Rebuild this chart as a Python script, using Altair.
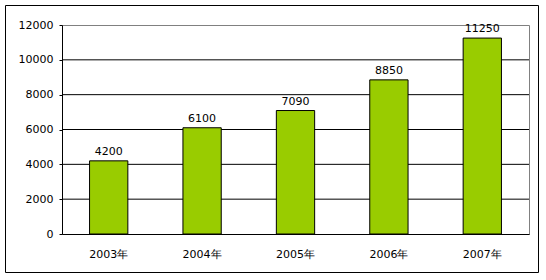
import altair as alt
import pandas as pd

years = ["2003年", "2004年", "2005年", "2006年", "2007年"]
values = [4200, 6100, 7090, 8850, 11250]
grid_values = [2000, 4000, 6000, 8000, 10000]
y_ticks = [0, 2000, 4000, 6000, 8000, 10000, 12000]

df = pd.DataFrame({"year": years, "value": values})
gdf = pd.DataFrame({"value": grid_values})

FONT = "DejaVu Sans"

yscale = alt.Scale(domain=[0, 12000], nice=False)
yaxis = alt.Axis(
    title=None, values=y_ticks, grid=False, format="d",
    tickSize=3, tickColor="black", labelPadding=6,
    labelFont=FONT, labelFontSize=11, labelColor="black",
    domainColor="black", domainWidth=1,
)
xaxis = alt.Axis(
    title=None, labelAngle=0, ticks=False, labelPadding=14,
    labelFont=FONT, labelFontSize=11, labelColor="black",
    domainColor="black", domainWidth=1,
)
xscale = alt.Scale(paddingInner=0.59, paddingOuter=0.295)

frame = alt.Chart(alt.Data(values=[{"a": 1}])).mark_rect(
    fill="transparent", stroke="black", strokeWidth=1, clip=False
).encode(
    x=alt.value(-56.5), x2=alt.value(476.5), y=alt.value(-19.5), y2=alt.value(247.5)
)

grid = alt.Chart(gdf).mark_rule(color="black", strokeWidth=1).encode(
    y=alt.Y("value:Q", scale=yscale, axis=yaxis)
)

bars = alt.Chart(df).mark_bar(color="#99CC00", stroke="black", strokeWidth=1).encode(
    x=alt.X("year:N", sort=years, scale=xscale, axis=xaxis),
    y=alt.Y("value:Q", scale=yscale, axis=yaxis),
)

labels = alt.Chart(df).mark_text(
    font=FONT, fontSize=11, color="black", dy=-6, baseline="alphabetic"
).encode(
    x=alt.X("year:N", sort=years, scale=xscale, axis=xaxis),
    y=alt.Y("value:Q", scale=yscale, axis=yaxis),
    text=alt.Text("value:Q", format="d"),
)

chart = alt.layer(frame, grid, bars, labels).properties(
    width=467, height=209,
    padding={"left": 62, "top": 25, "right": 17, "bottom": 46},
    autosize=alt.AutoSizeParams(type="none"),
    background="white",
).configure_view(stroke="#808080", strokeWidth=1)

chart.save("out.html", embed_options={"renderer": "svg", "actions": False})
